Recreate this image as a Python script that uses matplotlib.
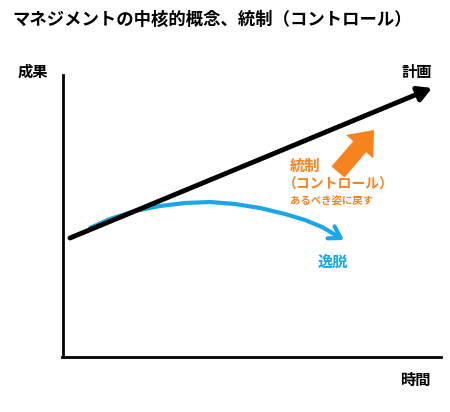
import matplotlib.pyplot as plt
from matplotlib.patches import FancyArrow

plt.rcParams['font.family'] = ['Noto Sans CJK JP', 'DejaVu Sans']

# diagram coordinates in pixels (origin top-left)
plan_x = [70, 432]
plan_y = [238, 88]
dev_x = [90, 110, 135, 160, 185, 210, 235, 260, 285, 305, 322, 338]
dev_y = [228, 219, 211, 206, 203, 202, 204, 208, 214, 220, 227, 236]
ctrl_from = (338, 172)
ctrl_to = (374, 130)

fig = plt.figure(figsize=(4.5, 4.12), dpi=100)
ax = fig.add_axes([0, 0, 1, 1])
ax.set_xlim(0, 450)
ax.set_ylim(412, 0)
ax.axis('off')

ax.text(12, 20, 'マネジメントの中核的概念、統制（コントロール）', fontsize=12.5,
        fontweight='bold', va='center')

# axes
ax.plot([63, 63], [75, 357], color='black', lw=2)
ax.plot([62, 441], [357, 357], color='black', lw=2)
ax.text(18, 72, '成果', fontsize=11, fontweight='bold', va='center')
ax.text(400, 380, '時間', fontsize=11, fontweight='bold', va='center')

# plan
ax.annotate('', xy=(plan_x[1], plan_y[1]), xytext=(plan_x[0], plan_y[0]),
            arrowprops=dict(arrowstyle='-|>,head_length=0.8,head_width=0.45',
                            color='black', lw=3.5, shrinkA=0, shrinkB=0))
ax.text(402, 72, '計画', fontsize=11, fontweight='bold', va='center')

# deviation
blue = '#1aa7e8'
ax.plot(dev_x[:-1], dev_y[:-1], color=blue, lw=3, solid_capstyle='round',
        solid_joinstyle='round')
ax.annotate('', xy=(dev_x[-1] + 6, dev_y[-1] + 4), xytext=(dev_x[-2], dev_y[-2]),
            arrowprops=dict(arrowstyle='->,head_length=0.8,head_width=0.5',
                            color=blue, lw=3, shrinkA=0, shrinkB=0))
ax.text(318, 262, '逸脱', fontsize=11, fontweight='bold', color=blue, va='center')

# control
orange = '#f7831f'
ax.add_patch(FancyArrow(ctrl_from[0], ctrl_from[1], ctrl_to[0] - ctrl_from[0],
                        ctrl_to[1] - ctrl_from[1], width=17, head_width=36,
                        head_length=22, length_includes_head=True,
                        color=orange, lw=0))
ax.text(290, 166, '統制', fontsize=11, fontweight='bold', color=orange, va='center')
ax.text(283, 185, '（コントロール）', fontsize=10, fontweight='bold', color=orange, va='center')
ax.text(290, 202, 'あるべき姿に戻す', fontsize=7.5, fontweight='bold', color=orange, va='center')

fig.savefig('out.png', dpi=100)
